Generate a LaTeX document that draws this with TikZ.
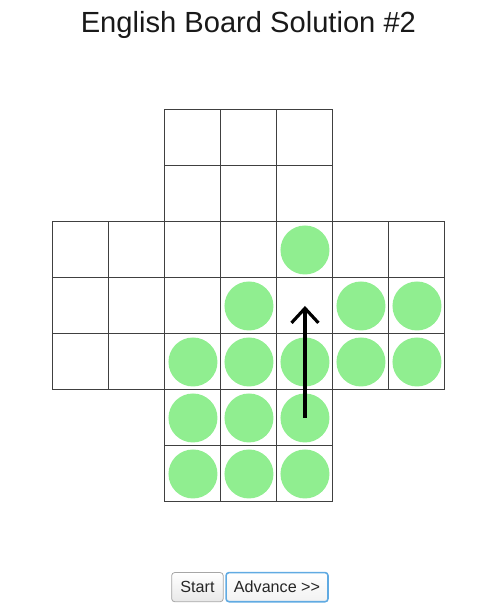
\documentclass[tikz,border=0pt]{standalone}
\usepackage{fontspec}
\setmainfont{Liberation Sans}
\usetikzlibrary{arrows.meta, positioning}

\definecolor{pegGreen}{RGB}{144,238,144}
\definecolor{focusBlue}{RGB}{96,170,226}

\tikzset{
    hole/.style={draw=black!75, line width=0.5pt, minimum size=1cm, inner sep=0pt},
    peg/.style={circle, fill=pegGreen, minimum size=0.875cm, inner sep=0pt},
    move/.style={line width=1.6pt, -{Straight Barb[length=0.26cm, width=0.48cm]}},
    button/.style={draw=black!35, rounded corners=1.5pt, top color=white, bottom color=black!9,
        inner sep=0pt, minimum height=0.52cm, text=black!85, font=\fontsize{8.2}{9}\selectfont}
}

\begin{document}
\begin{tikzpicture}
    \useasboundingbox (-0.946, -1.929) rectangle (7.982, 8.964);

    % title
    \node [anchor=base, font=\fontsize{14.8}{16}\selectfont, text=black!90] (title) at (3.49, 8.375) {English Board Solution \#2};

    % board
    \foreach \r in {0, 1, 5, 6}
        \foreach \c in {2, 3, 4}
            \node [hole] (h-\c-\r) at (\c + 0.5, 6.5 - \r) {};
    \foreach \r in {2, 3, 4}
        \foreach \c in {0, ..., 6}
            \node [hole] (h-\c-\r) at (\c + 0.5, 6.5 - \r) {};

    % pegs
    \foreach \c/\r in {4/2, 3/3, 5/3, 6/3, 2/4, 3/4, 4/4, 5/4, 6/4, 2/5, 3/5, 4/5, 2/6, 3/6, 4/6}
        \node [peg] (p-\c-\r) at (h-\c-\r) {};

    % next jump
    \draw [move] (h-4-5.center) -- (h-4-3.center);

    % buttons
    \node [button, minimum width=0.92cm] (start) at (2.58, -1.521) {Start};
    \node [button, minimum width=1.82cm, draw=focusBlue, line width=0.8pt, top color=white, bottom color=black!5,
        right=0.03cm of start] (advance) {Advance >{}>};
\end{tikzpicture}
\end{document}
